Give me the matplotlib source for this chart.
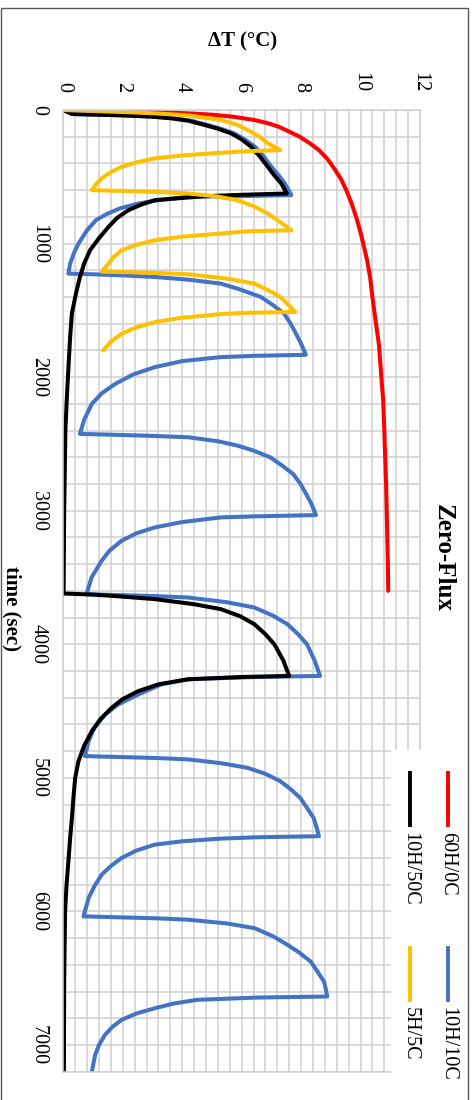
import matplotlib
matplotlib.use("Agg")
import matplotlib.pyplot as plt
from matplotlib.ticker import MultipleLocator
from matplotlib.lines import Line2D
from matplotlib.patches import Rectangle

plt.rcParams['font.family'] = ['Liberation Serif', 'DejaVu Serif']

# ---- data (time in s, dT in degC) ----
red_t = [0, 5, 10, 18, 25, 35, 50, 75, 100, 125, 162, 200, 250, 300, 370, 450, 520, 600, 700, 800,
         900, 1000, 1125, 1250, 1420, 1600, 1760, 2000, 2170, 2400, 2545, 2800, 3000, 3200, 3400, 3600]
red_dT = [0, 1.2, 2.2, 3.4, 4.2, 5.0, 5.7, 6.43, 6.9, 7.25, 7.6, 7.95, 8.3, 8.6, 8.9, 9.15, 9.35, 9.52, 9.7, 9.85,
          9.98, 10.09, 10.22, 10.32, 10.41, 10.52, 10.62, 10.7, 10.76, 10.8, 10.82, 10.86, 10.88, 10.9, 10.92, 10.93]

blue_t = [0, 30, 40, 50, 62, 80, 112, 140, 175, 220, 275, 350, 425, 490, 550, 637,
          645, 650, 675, 700, 737, 780, 825, 900, 1000, 1075, 1150, 1225,
          1230, 1238, 1250, 1270, 1300, 1340, 1400, 1460, 1525, 1590, 1650, 1740, 1833,
          1840, 1850, 1880, 1925, 1980, 2050, 2120, 2200, 2320, 2425,
          2432, 2440, 2450, 2480, 2512, 2550, 2600, 2660, 2725, 2800, 2875, 2950, 3033,
          3042, 3050, 3085, 3125, 3170, 3225, 3300, 3375, 3500, 3625,
          3632, 3640, 3650, 3685, 3725, 3785, 3850, 3925, 4000, 4120, 4237,
          4245, 4262, 4300, 4375, 4450, 4525, 4625, 4725, 4837,
          4845, 4852, 4862, 4890, 4925, 4970, 5025, 5085, 5150, 5225, 5300, 5370, 5437,
          5445, 5455, 5475, 5500, 5545, 5600, 5660, 5725, 5810, 5900, 6037,
          6045, 6052, 6062, 6090, 6125, 6185, 6250, 6310, 6375, 6450, 6525, 6580, 6637,
          6645, 6662, 6690, 6725, 6765, 6812, 6865, 6925, 7000, 7075, 7200]
blue_dT = [0, 0.3, 2.0, 3.0, 3.7, 4.3, 4.85, 5.3, 5.75, 6.1, 6.45, 6.75, 7.0, 7.25, 7.45, 7.67,
           6.0, 4.2, 3.2, 2.53, 1.9, 1.45, 1.1, 0.8, 0.51, 0.35, 0.23, 0.17,
           1.0, 2.0, 3.08, 4.2, 5.3, 5.9, 6.65, 7.05, 7.43, 7.62, 7.77, 7.98, 8.16,
           6.5, 5.3, 4.0, 3.08, 2.35, 1.75, 1.3, 0.96, 0.7, 0.56,
           1.8, 3.0, 4.2, 5.2, 5.85, 6.4, 6.96, 7.35, 7.73, 7.98, 8.17, 8.35, 8.5,
           6.5, 5.3, 4.0, 3.08, 2.45, 1.96, 1.55, 1.29, 0.95, 0.78,
           2.0, 3.2, 4.2, 5.5, 6.43, 7.05, 7.54, 7.9, 8.2, 8.45, 8.64,
           6.5, 4.2, 3.3, 2.53, 1.85, 1.41, 1.05, 0.85, 0.73,
           2.0, 3.2, 4.2, 5.3, 6.2, 6.8, 7.3, 7.65, 7.97, 8.2, 8.42, 8.52, 8.6,
           6.5, 5.3, 4.0, 3.08, 2.45, 1.96, 1.6, 1.29, 1.05, 0.85, 0.68,
           2.0, 3.2, 4.2, 5.5, 6.43, 7.05, 7.54, 7.95, 8.32, 8.55, 8.77, 8.83, 8.88,
           6.5, 4.5, 3.7, 3.08, 2.45, 1.96, 1.65, 1.4, 1.2, 1.07, 0.96]

black_t = [0, 30, 40, 50, 62, 80, 112, 140, 175, 220, 275, 350, 425, 490, 550, 625,
           635, 645, 655, 675, 710, 750, 810, 875, 960, 1050, 1150, 1250, 1380, 1522, 1700,
           1900, 2150, 2400, 2700, 3000, 3300, 3620,
           3628, 3640, 3662, 3700, 3737, 3790, 3850, 3925, 4000, 4060, 4120, 4180, 4237,
           4245, 4262, 4300, 4350, 4410, 4475, 4560, 4650, 4760, 4875, 5000, 5150, 5300,
           5450, 5600, 5800, 6000, 6500, 7200]
black_dT = [0, 0.3, 2.0, 3.0, 3.63, 4.2, 4.75, 5.2, 5.65, 6.0, 6.32, 6.62, 6.88, 7.1, 7.33, 7.52,
            6.0, 4.8, 4.2, 3.08, 2.6, 2.19, 1.8, 1.52, 1.2, 0.9, 0.7, 0.56, 0.42, 0.29, 0.23,
            0.18, 0.12, 0.07, 0.05, 0.03, 0.02, 0.01,
            1.0, 1.8, 3.08, 4.4, 5.3, 5.95, 6.43, 6.8, 7.1, 7.25, 7.4, 7.5, 7.6,
            6.0, 4.2, 3.2, 2.53, 2.0, 1.63, 1.25, 0.96, 0.7, 0.51, 0.4, 0.34, 0.29,
            0.23, 0.18, 0.11, 0.06, 0.03, 0.02]

yellow_t = [0, 15, 25, 40, 75, 110, 150, 200, 250, 300,
            308, 320, 340, 362, 390, 425, 465, 512, 555, 600,
            606, 612, 625, 648, 675, 720, 775, 840, 900,
            908, 925, 948, 975, 1010, 1050, 1100, 1150, 1210,
            1215, 1220, 1230, 1262, 1300, 1350, 1400, 1455, 1512,
            1518, 1528, 1555, 1588, 1628, 1675, 1735, 1800]
yellow_dT = [0, 2.0, 3.08, 4.2, 5.3, 5.85, 6.2, 6.6, 6.88, 7.3,
             6.2, 5.3, 4.0, 3.08, 2.5, 1.96, 1.6, 1.29, 1.1, 0.96,
             2.0, 3.0, 4.2, 5.2, 5.85, 6.4, 6.88, 7.3, 7.67,
             6.2, 5.3, 4.0, 3.08, 2.45, 1.96, 1.7, 1.52, 1.3,
             2.3, 3.2, 4.2, 5.5, 6.43, 6.9, 7.3, 7.55, 7.8,
             6.2, 5.3, 4.0, 3.08, 2.45, 1.96, 1.6, 1.34]

labels = ['60H/0C', '10H/10C', '10H/50C', '5H/5C']
colors = ['#FF0000', '#4472C4', '#000000', '#FFC000']
series = [(red_t, red_dT), (blue_t, blue_dT), (black_t, black_dT), (yellow_t, yellow_dT)]

# ---- layout helpers (pixel -> figure fraction) ----
W, H = 475, 1100
def fx(x):
    return x / W
def fy(y):
    return 1 - y / H

fig = plt.figure(figsize=(4.75, 11), dpi=100)
ax = fig.add_axes([fx(63.3), fy(1071.7), fx(420) - fx(63.3), fy(110) - fy(1071.7)])

for (t, dT), c in zip(series, colors):
    ax.plot(dT, t, color=c, lw=2.9, solid_joinstyle='round', solid_capstyle='round')

ax.set_xlim(0, 12)
ax.set_ylim(7200, 0)
ax.xaxis.set_major_locator(MultipleLocator(2))
ax.xaxis.set_minor_locator(MultipleLocator(0.4))
ax.yaxis.set_major_locator(MultipleLocator(1000))
ax.yaxis.set_minor_locator(MultipleLocator(200))
ax.xaxis.tick_top()
ax.set_axisbelow(True)
ax.grid(which='both', color='#d0d0d0', lw=1.1)
for s in ax.spines.values():
    s.set_color('#d0d0d0')
    s.set_linewidth(1.1)
ax.tick_params(which='both', length=0)
ax.tick_params(axis='x', labelrotation=-90, pad=13, labelsize=14.5)
ax.tick_params(axis='y', labelrotation=-90, pad=11, labelsize=14.5)
for lbl in ax.get_yticklabels():
    lbl.set_va('center')

# titles
fig.text(fx(243), fy(41), 'ΔT (°C)', ha='center', va='center', fontsize=15, fontweight='bold')
fig.text(fx(443), fy(558), 'Zero-Flux', rotation=-90, ha='center', va='center',
         fontsize=18, fontweight='bold')
fig.text(fx(12), fy(608), 'time (sec)', rotation=-90, ha='center', va='center',
         fontsize=15, fontweight='bold')

# legend (drawn by hand, rotated like the rest)
fig.add_artist(Rectangle((fx(391), fy(1100)), fx(466) - fx(391), fy(750) - fy(1100),
                         transform=fig.transFigure, facecolor='white', edgecolor='none', zorder=2))
leg_pos = [(448, 773), (448, 948), (410, 773), (410, 948)]
for lab, c, (lx, ly) in zip(labels, colors, leg_pos):
    fig.add_artist(Line2D([fx(lx), fx(lx)], [fy(ly), fy(ly + 52)], transform=fig.transFigure,
                          color=c, lw=2.8, zorder=3))
    fig.text(fx(lx), fy(ly + 59), lab, rotation=-90, rotation_mode='anchor',
             ha='left', va='center', fontsize=14.5, zorder=3)

# outer chart border
fig.add_artist(Rectangle((fx(1), fy(1120)), fx(468) - fx(1), fy(8) - fy(1120),
                         transform=fig.transFigure, fill=False, edgecolor='#595959', lw=1.0, zorder=4))

fig.savefig('out.png', dpi=100)
